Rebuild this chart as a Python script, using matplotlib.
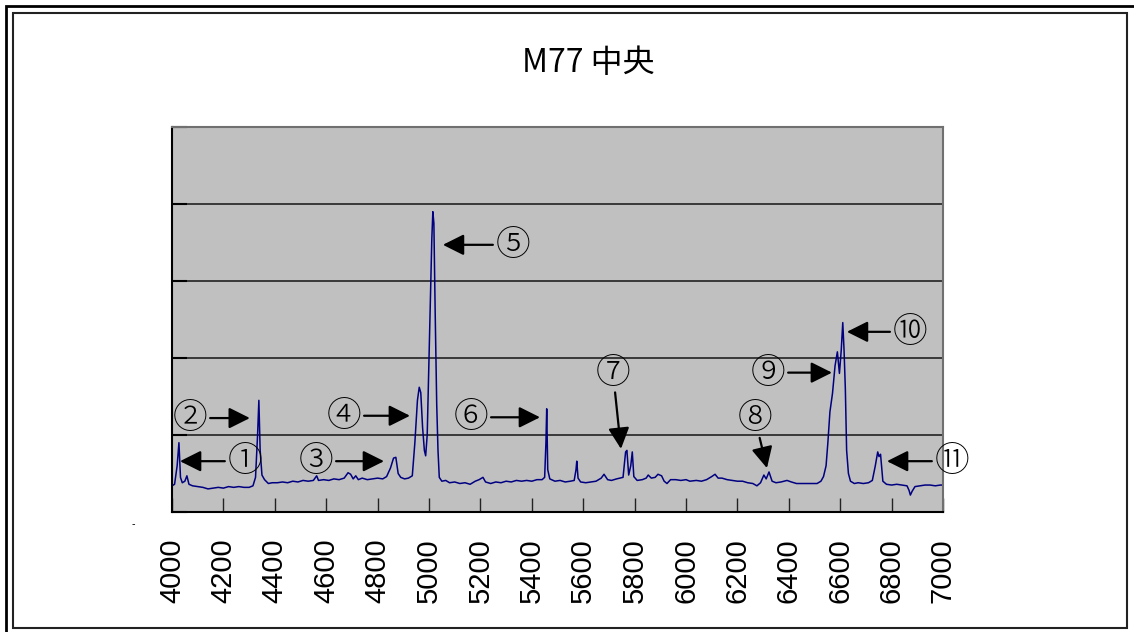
import matplotlib.pyplot as plt
from matplotlib.patches import Rectangle
import numpy as np

# spectrum of the M77 centre (wavelength in angstrom, relative intensity)
wavelength = [
    4000, 4010, 4020, 4027, 4033, 4040, 4050, 4058, 4066, 4080, 4100, 4120, 4140, 4160, 4180,
    4200, 4220, 4240, 4260, 4280, 4300, 4315, 4325, 4333, 4338, 4343, 4350, 4360, 4375, 4390,
    4410, 4430, 4450, 4470, 4490, 4510, 4530, 4550, 4563, 4570, 4590, 4610, 4630, 4650, 4670,
    4685, 4695, 4705, 4715, 4725, 4740, 4760, 4780, 4800, 4820, 4835, 4850, 4862, 4871, 4880,
    4890, 4905, 4920, 4935, 4945, 4955, 4962, 4968, 4975, 4982, 4987, 4993, 5000, 5006, 5011,
    5015, 5019, 5024, 5030, 5035, 5040, 5050, 5065, 5080, 5100, 5120, 5140, 5160, 5180, 5195,
    5210, 5220, 5240, 5260, 5280, 5300, 5320, 5340, 5360, 5380, 5400, 5420, 5440, 5450, 5455,
    5458, 5462, 5470, 5490, 5510, 5530, 5550, 5565, 5572, 5575, 5580, 5590, 5610, 5630, 5650,
    5670, 5681, 5695, 5710, 5730, 5755, 5765, 5770, 5777, 5785, 5791, 5797, 5810, 5830, 5845,
    5853, 5865, 5880, 5891, 5905, 5915, 5926, 5940, 5960, 5980, 6000, 6015, 6040, 6060, 6080,
    6100, 6113, 6125, 6140, 6160, 6180, 6200, 6220, 6240, 6260, 6276, 6290, 6303, 6312, 6323,
    6335, 6350, 6370, 6393, 6410, 6430, 6450, 6470, 6490, 6510, 6525, 6535, 6545, 6552, 6560,
    6570, 6580, 6589, 6597, 6604, 6610, 6615, 6620, 6625, 6632, 6640, 6655, 6670, 6690, 6710,
    6725, 6736, 6746, 6751, 6757, 6766, 6780, 6800, 6820, 6840, 6860, 6868, 6873, 6880, 6891,
    6910, 6930, 6950, 6970, 6990, 7000,
]
intensity = [
    0.34, 0.36, 0.60, 0.90, 0.45, 0.38, 0.40, 0.47, 0.36, 0.34, 0.33, 0.32, 0.30, 0.31, 0.32,
    0.31, 0.33, 0.32, 0.33, 0.32, 0.32, 0.34, 0.45, 1.00, 1.45, 0.80, 0.48, 0.42, 0.37, 0.38,
    0.38, 0.39, 0.38, 0.40, 0.39, 0.41, 0.40, 0.41, 0.47, 0.41, 0.42, 0.41, 0.43, 0.42, 0.44,
    0.51, 0.49, 0.43, 0.47, 0.42, 0.44, 0.42, 0.43, 0.44, 0.43, 0.46, 0.57, 0.70, 0.71, 0.50,
    0.45, 0.43, 0.44, 0.47, 0.90, 1.45, 1.62, 1.55, 1.10, 0.80, 0.73, 1.00, 2.00, 2.80, 3.55,
    3.90, 3.75, 2.60, 1.40, 0.80, 0.45, 0.40, 0.41, 0.38, 0.39, 0.37, 0.38, 0.36, 0.40, 0.42,
    0.45, 0.39, 0.37, 0.39, 0.38, 0.40, 0.39, 0.41, 0.40, 0.41, 0.40, 0.42, 0.42, 0.45, 0.90,
    1.34, 0.55, 0.43, 0.40, 0.41, 0.39, 0.40, 0.41, 0.55, 0.66, 0.44, 0.39, 0.38, 0.39, 0.40,
    0.44, 0.49, 0.42, 0.41, 0.43, 0.45, 0.78, 0.80, 0.48, 0.60, 0.78, 0.46, 0.41, 0.42, 0.44,
    0.48, 0.44, 0.45, 0.49, 0.47, 0.40, 0.37, 0.42, 0.42, 0.41, 0.42, 0.40, 0.41, 0.40, 0.42,
    0.46, 0.49, 0.44, 0.44, 0.42, 0.41, 0.40, 0.40, 0.38, 0.37, 0.34, 0.38, 0.48, 0.43, 0.52,
    0.40, 0.38, 0.39, 0.41, 0.39, 0.37, 0.37, 0.37, 0.37, 0.37, 0.40, 0.46, 0.60, 0.90, 1.30,
    1.54, 1.90, 2.08, 1.80, 2.10, 2.46, 2.10, 1.60, 0.80, 0.50, 0.40, 0.37, 0.38, 0.37, 0.38,
    0.41, 0.59, 0.78, 0.72, 0.75, 0.40, 0.36, 0.35, 0.36, 0.35, 0.34, 0.28, 0.22, 0.27, 0.33,
    0.34, 0.35, 0.35, 0.34, 0.35, 0.35,
]

# line labels: (label, text position, arrow tip)
labels = ['①', '②', '③', '④', '⑤', '⑥', '⑦', '⑧', '⑨', '⑩', '⑪']
label_xy = [(4284, 0.66), (4070, 1.22), (4560, 0.66), (4669, 1.25), (5327, 3.47), (5163, 1.23),
            (5716, 1.81), (6268, 1.22), (6319, 1.81), (6872, 2.34), (7035, 0.66)]
arrow_xy = [(4031, 0.66), (4303, 1.22), (4825, 0.66), (4926, 1.25), (5054, 3.47), (5432, 1.23),
            (5747, 0.82), (6315, 0.57), (6568, 1.81), (6626, 2.34), (6782, 0.66)]

xticks = np.arange(4000, 7001, 200)

fig = plt.figure(figsize=(11.34, 6.32), dpi=100)
ax = fig.add_axes([172 / 1134, 1 - 512 / 632, 771 / 1134, 385 / 632])
ax.set_facecolor('#c0c0c0')

ax.plot(wavelength, intensity, color='#000080', lw=1.1)

ax.set_xlim(4000, 7000)
ax.set_ylim(0, 5)
ax.set_xticks(xticks)
ax.set_xticklabels([str(t) for t in xticks], rotation=90, family='Liberation Sans', fontsize=21)
ax.set_yticks(np.arange(0, 6, 1))
ax.set_yticklabels([])
ax.tick_params(axis='x', direction='in', length=10, width=1, pad=19, color='#222222')
ax.tick_params(axis='y', direction='in', length=11, width=1.5, color='black')
ax.grid(axis='y', color='#222222', lw=1.2)
ax.set_axisbelow(True)
for side in ['left', 'bottom']:
    ax.spines[side].set_color('black')
    ax.spines[side].set_linewidth(1.5)
for side in ['top', 'right']:
    ax.spines[side].set_color('#707070')
    ax.spines[side].set_linewidth(1.5)

for lab, txy, axy in zip(labels, label_xy, arrow_xy):
    ax.annotate(lab, xy=axy, xytext=txy, ha='center', va='center', fontsize=25,
                family=['DejaVu Serif', 'DejaVu Sans', 'Noto Sans CJK JP'],
                fontweight='light', annotation_clip=False,
                arrowprops=dict(arrowstyle='-|>,head_length=0.8,head_width=0.4',
                                color='black', lw=1.6, mutation_scale=16,
                                shrinkA=0, shrinkB=0))

fig.text(588 / 1134, 1 - 63 / 632, 'M77 中央', ha='center', va='center', fontsize=23,
         family=['Noto Sans CJK JP', 'DejaVu Sans'])
fig.text(133 / 1134, 1 - 524 / 632, '-', ha='center', va='center', fontsize=7)

# double frame around the chart
fig.add_artist(Rectangle((6 / 1134, -0.01), 1.1, 1 - 6 / 632 + 0.01, transform=fig.transFigure,
                         fill=False, edgecolor='black', lw=2))
fig.add_artist(Rectangle((13 / 1134, 1 - 628 / 632), 1114 / 1134, 615 / 632,
                         transform=fig.transFigure, fill=False, edgecolor='#222222', lw=1.5))

fig.savefig('out.png', dpi=100)
